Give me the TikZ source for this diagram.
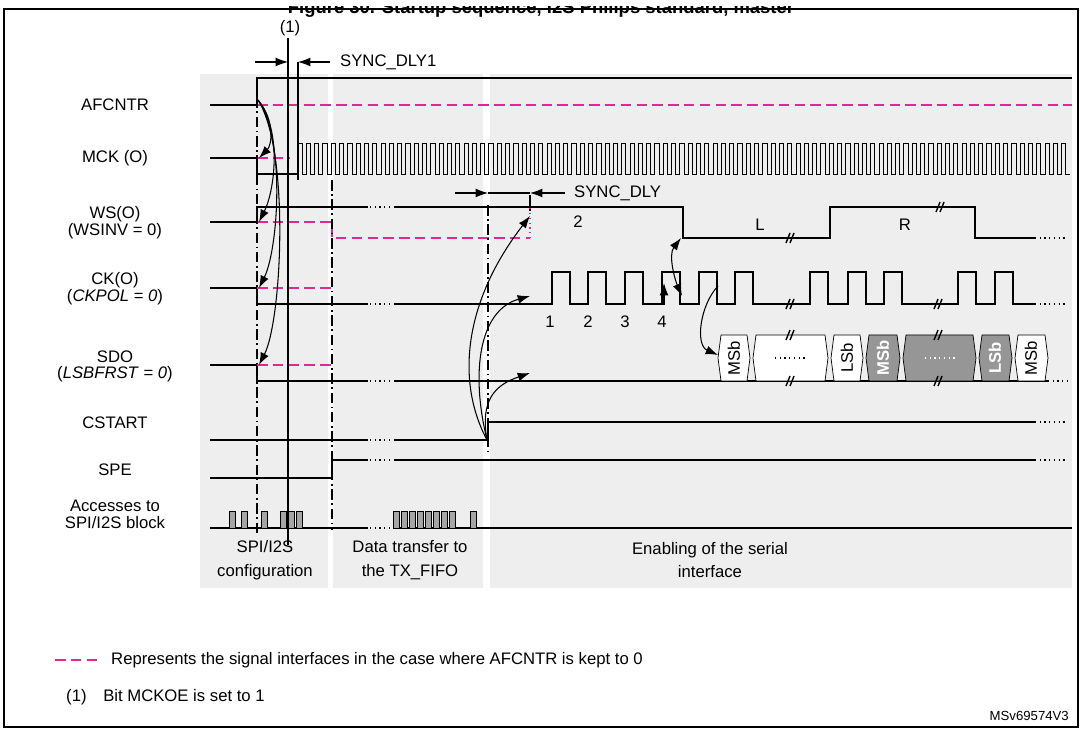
\documentclass[tikz,border=0pt]{standalone}
\usepackage{fontspec}
\setmainfont{Liberation Sans}
\usetikzlibrary{arrows.meta}
\definecolor{mag}{RGB}{225,40,140}
\definecolor{panel}{RGB}{238,238,238}
\definecolor{barg}{RGB}{165,165,165}
\definecolor{boxg}{RGB}{150,150,150}
\newcommand\brk[2]{\draw[line width=0.8pt] (#1-4,#2+5)--(#1,#2-5) (#1,#2+5)--(#1+4,#2-5);}
\newcommand\hexbox[3]{\draw[fill=#3] (#1+3,335)--(#2-3,335)--(#2,358)--(#2-3,381)--(#1+3,381)--(#1,358)--cycle;}
\begin{document}
\begin{tikzpicture}[x=0.02cm,y=-0.02cm,font=\fontsize{9.5}{11}\selectfont,
  sig/.style={line width=0.7pt},
  magd/.style={mag,dashed,dash pattern=on 6pt off 3pt,line width=0.7pt},
  dd/.style={dash pattern=on 6pt off 2pt on 1pt off 2pt,line width=0.6pt},
  arr/.style={-{Latex[length=7pt,width=5pt]},line width=0.6pt},
  dots/.style={dotted,line width=0.7pt}]
\useasboundingbox (0,0) rectangle (1082,732);
% title and frame
\node[anchor=base,font=\bfseries\fontsize{10.5}{12}\selectfont] (title) at (541,14) {Figure 30. Startup sequence, I2S Philips standard, master};
\fill[white] (0,-10) rectangle (1082,6);
\draw[line width=1pt] (4,9) rectangle (1078,727);
% panels
\fill[panel] (200,74) rectangle (328,588);
\fill[panel] (333,74) rectangle (483,588);
\fill[panel] (490,74) rectangle (1072,588);
% left labels
\node (lafc) at (115,105) {AFCNTR};
\node (lmck) at (115,158) {MCK (O)};
\node (lws) at (115,214) {WS(O)};
\node (lws2) at (115,231) {(WSINV = 0)};
\node (lck) at (115,280) {CK(O)};
\node (lck2) at (115,297) {(\textit{CKPOL} = \textit{0})};
\node (lsdo) at (115,357) {SDO};
\node (lsdo2) at (115,374) {(\textit{LSBFRST} = \textit{0})};
\node (lcs) at (115,423) {CSTART};
\node (lspe) at (115,470) {SPE};
\node (lacc) at (115,506) {Accesses to};
\node (lacc2) at (115,523) {SPI/I2S block};
% AFCNTR
\draw[sig] (210,105)--(257,105)--(257,78)--(1072,78);
\draw[magd] (257,105)--(1072,105);
% MCK
\draw[sig] (210,158)--(257,158)--(257,174)--(298,174);
\draw[magd] (257,158)--(290,158);
\draw[line width=0.5pt] (298,174) \foreach \i in {0,...,92} { -- ++(0,-31) -- ++(4.15,0) -- ++(0,31) -- ++(4.15,0)};
% WS
\draw[sig] (210,222)--(257,222)--(257,207)--(368,207);
\draw[dots] (370,207)--(392,207);
\draw[sig] (394,207)--(683,207)--(683,238)--(830,238)--(830,207)--(975,207)--(975,238)--(1035,238);
\draw[dots] (1035,238)--(1068,238);
\draw[magd] (257,222)--(332,222)--(332,238)--(530,238);
\draw[mag,dotted,line width=0.7pt] (530,238)--(530,207);
\brk{790}{238} \brk{940}{207}
\node (tl) at (760,225) {L};
\node (tr) at (905,225) {R};
% CK
\draw[sig] (210,288)--(257,288)--(257,304)--(368,304);
\draw[dots] (370,304)--(392,304);
\draw[magd] (257,288)--(332,288);
\draw[sig] (394,304)--(552,304)
  \foreach \a in {552,588,625,662,699,735} {-- (\a,304) -- (\a,272) -- (\a+18,272) -- (\a+18,304)}
  -- (810,304) \foreach \a in {810,848,884} {-- (\a,304) -- (\a,272) -- (\a+18,272) -- (\a+18,304)}
  -- (958,304) \foreach \a in {958,995} {-- (\a,304) -- (\a,272) -- (\a+18,272) -- (\a+18,304)}
  -- (1035,304);
\draw[dots] (1035,304)--(1068,304);
\brk{790}{304} \brk{938}{304}
\node (n1) at (550,322) {1};
\node (n2) at (588,322) {2};
\node (n3) at (625,322) {3};
\node (n4) at (662,322) {4};
% SDO
\draw[sig] (210,365)--(257,365)--(257,381)--(368,381);
\draw[dots] (370,381)--(392,381);
\draw[magd] (257,365)--(332,365);
\draw[sig] (394,381)--(1048,381);
\draw[dots] (1048,381)--(1068,381);
\hexbox{718}{750}{white}
\hexbox{753}{828}{white}
\hexbox{831}{863}{white}
\hexbox{866}{900}{boxg}
\hexbox{903}{976}{boxg}
\hexbox{979}{1012}{boxg}
\hexbox{1015}{1048}{white}
\draw[dots] (775,358)--(805,358);
\draw[white,dotted,line width=0.7pt] (925,358)--(955,358);
\brk{790}{335} \brk{790}{381} \brk{938}{335} \brk{938}{381}
\node[rotate=90] (b1) at (734,358) {MSb};
\node[rotate=90] (b2) at (847,358) {LSb};
\node[rotate=90,white,font=\bfseries\fontsize{9.5}{11}\selectfont] (b3) at (883,358) {MSb};
\node[rotate=90,white,font=\bfseries\fontsize{9.5}{11}\selectfont] (b4) at (995,358) {LSb};
\node[rotate=90] (b5) at (1031,358) {MSb};
% CSTART
\draw[sig] (210,440)--(368,440);
\draw[dots] (370,440)--(392,440);
\draw[sig] (394,440)--(488,440)--(488,422)--(1035,422);
\draw[dots] (1035,422)--(1068,422);
% SPE
\draw[sig] (210,478)--(332,478)--(332,460)--(368,460);
\draw[dots] (370,460)--(392,460);
\draw[sig] (394,460)--(1035,460);
\draw[dots] (1035,460)--(1068,460);
% accesses
\draw[sig] (210,528)--(368,528);
\draw[dots] (370,528)--(392,528);
\draw[sig] (394,528)--(1072,528);
\foreach \x in {232,244,264,283,291,299,396,404,412,420,428,436,444,452,473}
  \draw[fill=barg,line width=0.4pt] (\x-3,528) rectangle (\x+3,511);
% verticals
\draw[dd] (257,78)--(257,535);
\draw[dd] (332,180)--(332,530);
\draw[dd] (488,205)--(488,452);
\draw[dd] (530,195)--(530,212);
\draw[line width=0.6pt] (288,38)--(288,545);
\draw[line width=0.6pt] (298,62)--(298,180);
% SYNC_DLY1
\node (one) at (290,28) {(1)};
\draw[arr] (255,62)--(288,62);
\draw[arr] (330,62)--(298,62);
\node[anchor=west] (sd1) at (334,62) {SYNC\_DLY1};
% SYNC_DLY2
\draw[arr] (455,193)--(488,193);
\draw[arr] (565,193)--(530,193);
\draw[line width=0.6pt] (488,193)--(530,193);
\node[anchor=west] (sd2) at (568,193) {SYNC\_DLY};
\node (sd2b) at (578,222) {2};
% curved arrows from AFCNTR
\coordinate (a0) at (258,100);
\draw[arr] (a0) .. controls (275,120) and (272,145) .. (259,158);
\draw[arr] (a0) .. controls (282,130) and (275,190) .. (259,222);
\draw[arr] (a0) .. controls (286,140) and (278,250) .. (259,288);
\draw[arr] (a0) .. controls (290,150) and (282,320) .. (259,365);
% from CSTART
\coordinate (c0) at (487,440);
\draw[arr] (c0) .. controls (455,380) and (465,300) .. (530,216);
\draw[arr] (c0) .. controls (470,370) and (480,310) .. (530,296);
\draw[arr] (c0) .. controls (480,400) and (495,385) .. (530,373);
% WS/CK relations
\draw[{Latex[length=7pt,width=5pt]}-{Latex[length=7pt,width=5pt]},line width=0.6pt] (681,238) .. controls (668,255) and (675,280) .. (682,296);
\draw[arr] (664,305)--(664,283);
\draw[arr] (718,286) .. controls (700,305) and (695,345) .. (718,355);
% bottom labels
\node[align=center,font=\fontsize{9.5}{13.5}\selectfont] (p1) at (265,560) {SPI/I2S\\configuration};
\node[align=center,font=\fontsize{9.5}{13.5}\selectfont] (p2) at (410,560) {Data transfer to\\the TX\_FIFO};
\node[align=center,font=\fontsize{9.5}{13.5}\selectfont] (p3) at (710,560) {Enabling of the serial\\interface};
% legend
\draw[magd] (55,660)--(97,660);
\node[anchor=west] (leg) at (105,660) {Represents the signal interfaces in the case where AFCNTR is kept to 0};
\node[anchor=west] (fn) at (60,697) {(1)\quad Bit MCKOE is set to 1};
\node[anchor=east,font=\fontsize{7.5}{9}\selectfont] (id) at (1075,716) {MSv69574V3};
\end{tikzpicture}
\end{document}
